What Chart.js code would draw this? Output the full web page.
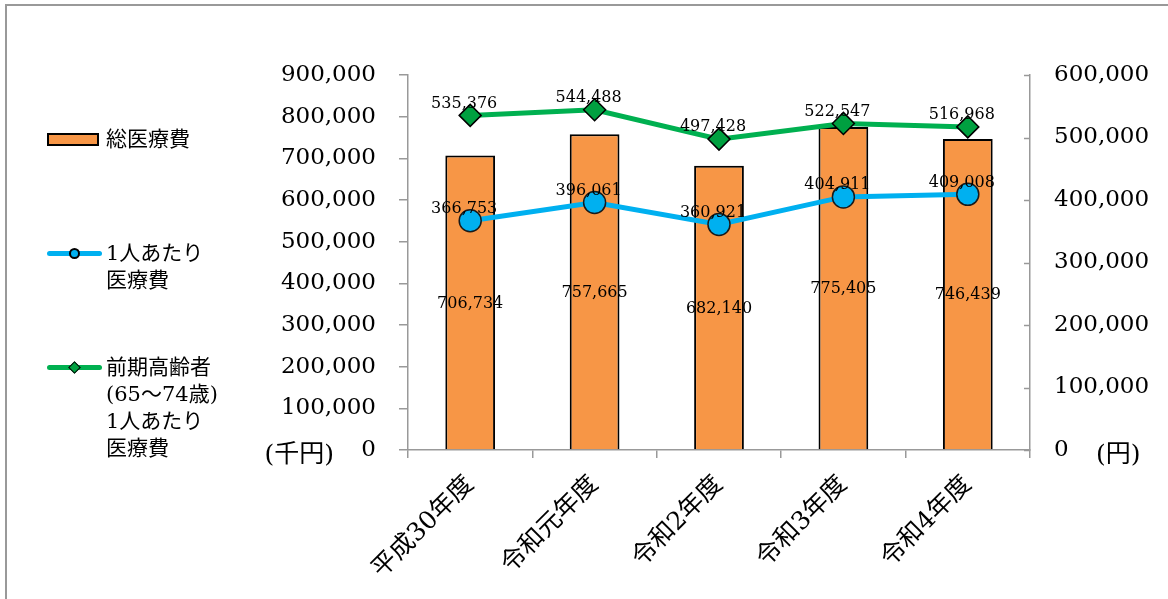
<!DOCTYPE html>
<html>
<head>
<meta charset="utf-8">
<script src="https://cdn.jsdelivr.net/npm/chart.js@4"></script>
<style>
  html, body { margin: 0; padding: 0; background: #fff; }
  #wrap { position: relative; width: 1168px; height: 599px; overflow: hidden; }
  #frame { position: absolute; left: 5px; top: 4px; width: 1200px; height: 700px;
           border-top: 2px solid #999; border-left: 2px solid #999; }
  #chart { position: absolute; left: 0; top: 0; }
  .lg { position: absolute; font-family: "DejaVu Serif", "Noto Sans CJK JP", serif;
        font-size: 21px; line-height: 27px; color: #000; }
  .sw { position: absolute; box-sizing: border-box; }
</style>
</head>
<body>
<div id="wrap">
  <div id="frame"></div>
  <canvas id="chart" width="1168" height="599"></canvas>

  <div class="sw" style="left:47px;top:133px;width:52px;height:13px;background:#F79646;border:2px solid #000;"></div>
  <div class="lg" style="left:106px;top:126px;">総医療費</div>

  <div class="sw" style="left:47px;top:251px;width:55px;height:5px;background:#00B0F0;border-radius:3px;"></div>
  <div class="sw" style="left:69px;top:248px;width:11px;height:11px;background:#00B0F0;border:2px solid #000;border-radius:50%;"></div>
  <div class="lg" style="left:106px;top:240px;">1人あたり<br>医療費</div>

  <div class="sw" style="left:47px;top:365px;width:55px;height:5px;background:#00B050;border-radius:3px;"></div>
  <div class="sw" style="left:70px;top:363px;width:9px;height:9px;background:#00A040;border:1.5px solid #000;transform:rotate(45deg);"></div>
  <div class="lg" style="left:106px;top:354px;">前期高齢者<br>(65～74歳)<br>1人あたり<br>医療費</div>
</div>

<script>
const categories = ['平成30年度', '令和元年度', '令和2年度', '令和3年度', '令和4年度'];
const totalCost = [706734, 757665, 682140, 775405, 746439];        // 千円
const perCapita = [366753, 396061, 360921, 404911, 409008];        // 円
const elderlyPerCapita = [535376, 544488, 497428, 522547, 516968]; // 円

const FONT = '"DejaVu Serif", "Noto Sans CJK JP", serif';
const fmt = v => Number(v).toLocaleString('en-US');

// value labels, unit labels and inward ticks on the right axis
const extras = {
  id: 'extras',
  afterDatasetsDraw(chart) {
    const ctx = chart.ctx;
    ctx.save();
    ctx.fillStyle = '#000';
    ctx.font = '16px ' + FONT;
    ctx.textAlign = 'center';
    ctx.textBaseline = 'middle';
    chart.data.datasets.forEach((ds, i) => {
      const meta = chart.getDatasetMeta(i);
      meta.data.forEach((el, j) => {
        const text = fmt(ds.data[j]);
        if (ds.type === 'bar') {
          ctx.fillText(text, el.x, (el.y + el.base) / 2 + 1);
        } else {
          ctx.fillText(text, el.x - 6, el.y - 12);
        }
      });
    });
    ctx.restore();
  },
  afterDraw(chart) {
    const ctx = chart.ctx;
    const yl = chart.scales.y, yr = chart.scales.y1;
    ctx.save();
    ctx.strokeStyle = '#999';
    ctx.lineWidth = 1.5;
    yr.ticks.forEach(t => {
      const py = Math.round(yr.getPixelForValue(t.value)) + 0.5;
      ctx.beginPath();
      ctx.moveTo(yr.left - 6, py);
      ctx.lineTo(yr.left, py);
      ctx.stroke();
    });
    ctx.fillStyle = '#000';
    ctx.font = '25px ' + FONT;
    ctx.textBaseline = 'middle';
    ctx.textAlign = 'right';
    ctx.fillText('(千円)', yl.right - 74, yl.getPixelForValue(0) + 5);
    ctx.textAlign = 'left';
    ctx.fillText('(円)', yr.left + 66, yr.getPixelForValue(0) + 5);
    ctx.restore();
  }
};

new Chart(document.getElementById('chart').getContext('2d'), {
  data: {
    labels: categories,
    datasets: [
      {
        type: 'line',
        label: '前期高齢者(65～74歳)1人あたり医療費',
        data: elderlyPerCapita,
        yAxisID: 'y1',
        borderColor: '#00B050',
        borderWidth: 5,
        pointStyle: 'rectRot',
        pointRadius: 11,
        pointBackgroundColor: '#00A040',
        pointBorderColor: '#000',
        pointBorderWidth: 1.5,
        tension: 0,
        order: 1
      },
      {
        type: 'line',
        label: '1人あたり医療費',
        data: perCapita,
        yAxisID: 'y1',
        borderColor: '#00B0F0',
        borderWidth: 5,
        pointStyle: 'circle',
        pointRadius: 11,
        pointBackgroundColor: '#00B0F0',
        pointBorderColor: '#1a1a1a',
        pointBorderWidth: 1.5,
        tension: 0,
        order: 2
      },
      {
        type: 'bar',
        label: '総医療費',
        data: totalCost,
        yAxisID: 'y',
        backgroundColor: '#F79646',
        borderColor: '#000',
        borderWidth: 2,
        categoryPercentage: 1,
        barPercentage: 0.4,
        order: 3
      }
    ]
  },
  options: {
    responsive: false,
    animation: false,
    layout: { padding: { top: 75, left: 0, right: 0, bottom: 0 } },
    plugins: { legend: { display: false }, tooltip: { enabled: false } },
    scales: {
      x: {
        grid: { offset: true, drawOnChartArea: false, drawTicks: true, tickLength: 8, color: '#999', lineWidth: 1.5 },
        border: { color: '#999', width: 1.5 },
        ticks: { minRotation: 45, maxRotation: 45, color: '#000', padding: 12, font: { family: FONT, size: 25 } },
        afterFit: s => { s.height = 149; }
      },
      y: {
        position: 'left',
        min: 0,
        max: 900000,
        grid: { drawOnChartArea: false, drawTicks: true, tickLength: 9, color: '#999', lineWidth: 1.5 },
        border: { color: '#999', width: 1.5 },
        ticks: { stepSize: 100000, padding: 23, color: '#000', font: { family: FONT, size: 23 }, callback: v => fmt(v) },
        afterFit: s => { s.width = 408; }
      },
      y1: {
        position: 'right',
        min: 0,
        max: 600000,
        grid: { drawOnChartArea: false, drawTicks: false },
        border: { color: '#999', width: 1.5 },
        ticks: { stepSize: 100000, padding: 24, color: '#000', font: { family: FONT, size: 23 }, callback: v => fmt(v) },
        afterFit: s => { s.width = 138; }
      }
    }
  },
  plugins: [extras]
});
</script>
</body>
</html>
